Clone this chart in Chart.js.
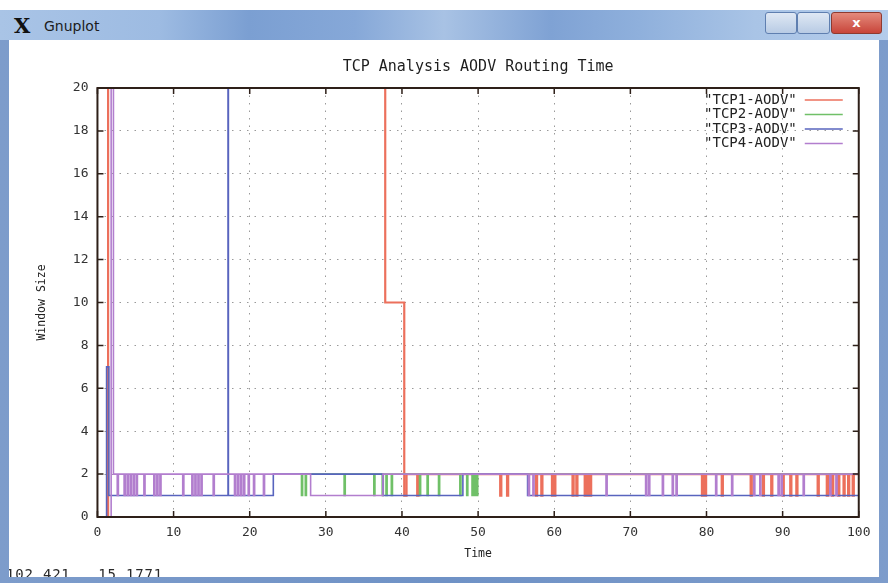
<!DOCTYPE html>
<html>
<head>
<meta charset="utf-8">
<title>TCP Analysis AODV Routing Time</title>
<script src="https://cdn.jsdelivr.net/npm/chart.js@4.4.0/dist/chart.umd.min.js"></script>
<style>
  body { margin: 0; width: 888px; height: 583px; overflow: hidden; background: #fff; position: relative; }
  #win { position: absolute; left: 0; top: 10px; width: 888px; height: 573px;
         background: linear-gradient(90deg, #7d9ccb, #6f92c6 50%, #7d9ccb); }
  #bar { position: absolute; left: 0; top: 0; width: 888px; height: 30px;
         background: linear-gradient(90deg, #a9c4e6 0%, #9dbbe2 18%, #7b9fd2 28%, #86a8d8 40%, #a8c2e4 50%, #7fa2d4 62%, #8fb0dc 72%, #a9c4e6 85%, #b4cceb 100%); }
  #xicon { position: absolute; left: 14px; top: 3px; font: bold 21px "DejaVu Serif", serif; color: #111; }
  #name { position: absolute; left: 44px; top: 8px; font: 14px "DejaVu Sans", sans-serif; color: #1c1c1c; }
  .btn { position: absolute; top: 2px; height: 20px; border: 1px solid #5f7fb0; border-radius: 3px;
         background: linear-gradient(#dfe8f4, #b8cbe4); }
  #bmin { left: 765px; width: 30px; }
  #bmax { left: 797px; width: 31px; }
  #bclose { left: 831px; width: 49px; background: linear-gradient(#e48a7c, #c8453a); border-color: #8e3a30;
            color: #fff; font: bold 13px "DejaVu Sans", sans-serif; text-align: center; line-height: 20px; }
  #panel { position: absolute; left: 9px; top: 30px; width: 870px; height: 537px; background: #fff; overflow: hidden; }
  #box { position: absolute; left: 1px; top: 0; width: 868px; height: 537px; }
  #status { position: absolute; left: -3px; top: 526px; font: 14px "DejaVu Sans Mono", monospace;
            letter-spacing: 0.8px; color: #2a2a2a; white-space: pre; }
</style>
</head>
<body>
<div id="win">
  <div id="bar">
    <span id="xicon">X</span><span id="name">Gnuplot</span>
    <div class="btn" id="bmin"></div><div class="btn" id="bmax"></div><div class="btn" id="bclose">x</div>
  </div>
  <div id="panel">
    <div id="box"><canvas id="chart"></canvas></div>
    <div id="status">102.421,  15.1771</div>
  </div>
</div>
<script>
// ─── DATA ─────────────────────────────────────────────────────
const chartTitle = "TCP Analysis AODV Routing Time";
const xTitle = "Time";
const yTitle = "Window Size";
const seriesNames = ["TCP1-AODV", "TCP2-AODV", "TCP3-AODV", "TCP4-AODV"];
const seriesColors = ["rgb(236,112,92)", "rgb(112,192,104)", "rgb(88,100,190)", "rgb(178,126,206)"];

const tcp1X = [0, 1.4, 37.8, 40.3, 40.6, 42.0, 42.15, 52.9, 53.05, 53.8, 53.95, 57.6, 57.75, 58.3, 58.45,
               59.7, 59.85, 60.0, 60.15, 62.4, 62.55, 62.9, 63.05, 64.0, 64.15, 64.4, 64.55, 64.7, 64.85,
               79.4, 79.55, 79.8, 79.95, 82.0, 82.15, 85.8, 85.95, 87.4, 87.55, 88.5, 88.65, 90.0, 90.15,
               91.0, 91.15, 91.8, 91.95, 94.6, 94.75, 95.8, 95.95, 96.5, 96.65, 97.3, 97.45, 98.0, 98.15,
               98.6, 98.75, 99.2, 99.35, 100];
const tcp1Y = [0, 20, 10, 1, 2, 1, 2, 1, 2, 1, 2, 1, 2, 1, 2,
               1, 2, 1, 2, 1, 2, 1, 2, 1, 2, 1, 2, 1, 2,
               1, 2, 1, 2, 1, 2, 1, 2, 1, 2, 1, 2, 1, 2,
               1, 2, 1, 2, 1, 2, 1, 2, 1, 2, 1, 2, 1, 2,
               1, 2, 1, 2, 2];

const tcp2X = [26.6, 26.8, 26.95, 27.3, 27.45, 32.4, 32.55, 36.3, 36.45, 37.4, 37.55, 37.9, 38.05,
               38.6, 38.75, 42.3, 42.45, 43.3, 43.45, 44.8, 44.95, 47.6, 47.75, 48.5, 48.65, 49.2, 49.35,
               49.5, 49.65, 49.8, 49.95, 100];
const tcp2Y = [2, 1, 2, 1, 2, 1, 2, 1, 2, 1, 2, 1, 2,
               1, 2, 1, 2, 1, 2, 1, 2, 1, 2, 1, 2, 1, 2,
               1, 2, 1, 2, 2];

const tcp3X = [0, 1.2, 1.5, 17.15, 17.2, 23.1, 37.5, 48.0, 56.5, 100];
const tcp3Y = [0, 7, 1, 20, 1, 2, 1, 2, 1, 1];

const tcp4X = [0, 1.8, 2.1, 2.6, 2.75, 3.5, 3.65, 3.9, 4.05, 4.3, 4.45, 4.7, 4.85, 5.1, 5.25, 6.1, 6.25,
               7.4, 7.55, 7.8, 7.95, 8.2, 8.35, 11.2, 11.35, 12.4, 12.55, 12.8, 12.95, 13.2, 13.35,
               13.6, 13.75, 15.2, 15.35, 18.0, 18.15, 18.4, 18.55, 18.8, 18.95, 19.2, 19.35, 19.8, 19.95,
               20.5, 20.65, 21.8, 21.95, 23.1, 28.0, 37.5, 56.6, 56.75, 57.2, 57.35, 66.8, 66.95,
               72.0, 72.15, 72.4, 72.55, 74.2, 74.35, 75.5, 75.65, 76.0, 76.15, 81.2, 81.35, 83.3, 83.45,
               86.2, 86.35, 87.0, 87.15, 89.4, 89.55, 89.8, 89.95, 92.7, 92.85, 96.2, 96.35, 97.0, 97.15, 100];
const tcp4Y = [0, 20, 2, 1, 2, 1, 2, 1, 2, 1, 2, 1, 2, 1, 2, 1, 2,
               1, 2, 1, 2, 1, 2, 1, 2, 1, 2, 1, 2, 1, 2,
               1, 2, 1, 2, 1, 2, 1, 2, 1, 2, 1, 2, 1, 2,
               1, 2, 1, 2, 2, 1, 2, 1, 2, 1, 2, 1, 2,
               1, 2, 1, 2, 1, 2, 1, 2, 1, 2, 1, 2, 1, 2,
               1, 2, 1, 2, 1, 2, 1, 2, 1, 2, 1, 2, 1, 2, 2];

const xTicks = [0, 10, 20, 30, 40, 50, 60, 70, 80, 90, 100];
const yTicks = [0, 2, 4, 6, 8, 10, 12, 14, 16, 18, 20];

// ─── HELPERS ──────────────────────────────────────────────────
function toPoints(xs, ys) {
    return xs.map((x, i) => ({ x: x, y: ys[i] }));
}

const MONO = '"DejaVu Sans Mono", monospace';

// frame, inward ticks, gnuplot style key and title
const gnuplotFrame = {
    id: "gnuplotFrame",
    afterDatasetsDraw(chart) {
        const { ctx, chartArea: a, scales } = chart;
        const sx = scales.x, sy = scales.y;
        ctx.save();
        ctx.strokeStyle = "#2e2019";
        ctx.lineWidth = 2;
        ctx.strokeRect(a.left, a.top, a.right - a.left, a.bottom - a.top);

        ctx.lineWidth = 1.5;
        ctx.beginPath();
        xTicks.forEach(v => {
            const px = sx.getPixelForValue(v);
            ctx.moveTo(px, a.bottom); ctx.lineTo(px, a.bottom - 6);
            ctx.moveTo(px, a.top);    ctx.lineTo(px, a.top + 6);
        });
        yTicks.forEach(v => {
            const py = sy.getPixelForValue(v);
            ctx.moveTo(a.left, py);  ctx.lineTo(a.left + 6, py);
            ctx.moveTo(a.right, py); ctx.lineTo(a.right - 6, py);
        });
        ctx.stroke();

        // key, text first then the line sample
        ctx.font = "14px " + MONO;
        ctx.textAlign = "right";
        ctx.textBaseline = "middle";
        chart.data.datasets.forEach((ds, i) => {
            const ty = a.top + 12 + i * 14.5;
            ctx.fillStyle = "#222";
            ctx.fillText('"' + ds.label + '"', a.right - 62, ty);
            ctx.strokeStyle = ds.borderColor;
            ctx.lineWidth = 1.5;
            ctx.beginPath();
            ctx.moveTo(a.right - 54, ty);
            ctx.lineTo(a.right - 16, ty);
            ctx.stroke();
        });

        // title centred on the plot area
        ctx.font = "15px " + MONO;
        ctx.textAlign = "center";
        ctx.fillStyle = "#1e1e1e";
        ctx.fillText(chartTitle, (a.left + a.right) / 2, 27);
        ctx.restore();
    }
};

// ─── CHART ────────────────────────────────────────────────────
const datasets = [
    { label: seriesNames[0], data: toPoints(tcp1X, tcp1Y), borderColor: seriesColors[0], order: 4, borderWidth: 2.2 },
    { label: seriesNames[1], data: toPoints(tcp2X, tcp2Y), borderColor: seriesColors[1], order: 3, borderWidth: 1.6 },
    { label: seriesNames[2], data: toPoints(tcp3X, tcp3Y), borderColor: seriesColors[2], order: 2, borderWidth: 1.6 },
    { label: seriesNames[3], data: toPoints(tcp4X, tcp4Y), borderColor: seriesColors[3], order: 1, borderWidth: 1.6 }
].map(d => Object.assign(d, { pointRadius: 0, stepped: true, fill: false, tension: 0 }));

const gridStyle = { color: "#9a9a9a", lineWidth: 1, drawTicks: false };

new Chart(document.getElementById("chart"), {
    type: "line",
    data: { datasets: datasets },
    options: {
        responsive: true,
        maintainAspectRatio: false,
        animation: false,
        layout: { padding: { top: 48, left: 12, right: 19, bottom: 11.6 } },
        plugins: {
            legend: { display: false },
            title: { display: false },
            tooltip: { enabled: false }
        },
        scales: {
            x: {
                type: "linear", min: 0, max: 100,
                afterBuildTicks: s => { s.ticks = xTicks.map(v => ({ value: v })); },
                ticks: { color: "#333", padding: 7.5, font: { family: MONO, size: 13 } },
                grid: gridStyle,
                border: { display: false, dash: [1.5, 6] },
                title: { display: true, text: xTitle, color: "#222",
                         font: { family: MONO, size: 11.5 }, padding: { top: 0, bottom: 4 } }
            },
            y: {
                min: 0, max: 20,
                afterBuildTicks: s => { s.ticks = yTicks.map(v => ({ value: v })); },
                ticks: { color: "#333", padding: 9, font: { family: MONO, size: 13 } },
                grid: gridStyle,
                border: { display: false, dash: [1.5, 6] },
                title: { display: true, text: yTitle, color: "#222",
                         font: { family: MONO, size: 11.5 }, padding: { top: 13, bottom: 15 } }
            }
        }
    },
    plugins: [gnuplotFrame]
});
</script>
</body>
</html>
